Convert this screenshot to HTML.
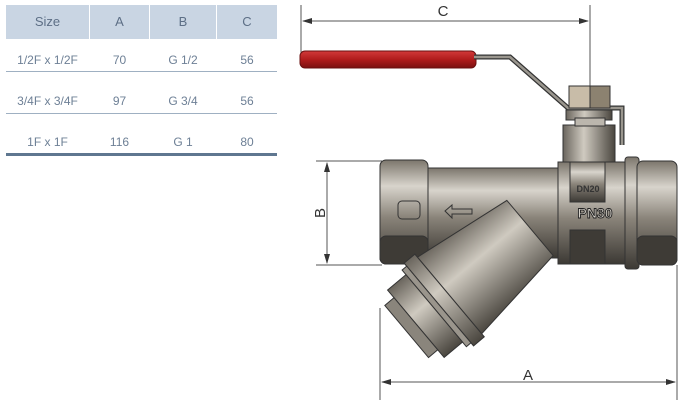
<!DOCTYPE html>
<html><head><meta charset="utf-8"><style>
html,body{margin:0;padding:0;background:#fff;width:700px;height:408px;overflow:hidden;font-family:"Liberation Sans",sans-serif}
.t{position:absolute;left:6px;top:5px;width:271px}
.h{position:absolute;top:0;height:34px;background:#c9d5e3;color:#5d6f86;font-size:13px;line-height:34px;text-align:center}
.c{position:absolute;font-size:12px;color:#6e8096;text-align:center}
.l{position:absolute;left:0;width:271px;height:1px;background:#9fb0c2}
</style></head><body>
<div class="t">
<div class="h" style="left:0;width:83px">Size</div>
<div class="h" style="left:84px;width:59px">A</div>
<div class="h" style="left:144px;width:66px">B</div>
<div class="h" style="left:211px;width:60px">C</div>
<div class="c" style="left:0;width:83px;top:48px">1/2F x 1/2F</div>
<div class="c" style="left:84px;width:59px;top:48px">70</div>
<div class="c" style="left:144px;width:66px;top:48px">G 1/2</div>
<div class="c" style="left:211px;width:60px;top:48px">56</div>
<div class="l" style="top:66px"></div>
<div class="c" style="left:0;width:83px;top:89px">3/4F x 3/4F</div>
<div class="c" style="left:84px;width:59px;top:89px">97</div>
<div class="c" style="left:144px;width:66px;top:89px">G 3/4</div>
<div class="c" style="left:211px;width:60px;top:89px">56</div>
<div class="l" style="top:108px"></div>
<div class="c" style="left:0;width:83px;top:130px">1F x 1F</div>
<div class="c" style="left:84px;width:59px;top:130px">116</div>
<div class="c" style="left:144px;width:66px;top:130px">G 1</div>
<div class="c" style="left:211px;width:60px;top:130px">80</div>
<div class="l" style="top:148px;height:3px;background:#5f7790"></div>
</div>
<svg style="position:absolute;left:0;top:0" width="700" height="408">
<defs>
<linearGradient id="m" x1="0" y1="0" x2="0" y2="1"><stop offset="0" stop-color="#7c766c"/><stop offset=".25" stop-color="#d8d4cc"/><stop offset=".55" stop-color="#8a847a"/><stop offset="1" stop-color="#3c3934"/></linearGradient>
<linearGradient id="mh" x1="0" y1="0" x2="1" y2="0"><stop offset="0" stop-color="#6a655d"/><stop offset=".4" stop-color="#cfcac0"/><stop offset="1" stop-color="#4a463f"/></linearGradient>
<linearGradient id="r" x1="0" y1="0" x2="0" y2="1"><stop offset="0" stop-color="#d23a3a"/><stop offset=".5" stop-color="#b01c1c"/><stop offset="1" stop-color="#7a1010"/></linearGradient>
<marker id="a" markerWidth="10" markerHeight="6" refX="9" refY="3" orient="auto-start-reverse"><path d="M0,0 L10,3 L0,6 Z" fill="#333"/></marker>
</defs>
<g stroke="#555" stroke-width="1" fill="none">
<line x1="301" y1="5" x2="301" y2="58"/><line x1="590" y1="5" x2="590" y2="88"/>
<line x1="303" y1="21" x2="588" y2="21" marker-start="url(#a)" marker-end="url(#a)"/>
<line x1="316" y1="161" x2="382" y2="161"/><line x1="316" y1="265" x2="382" y2="265"/>
<line x1="327" y1="163" x2="327" y2="263" marker-start="url(#a)" marker-end="url(#a)"/>
<line x1="380" y1="308" x2="380" y2="400"/><line x1="677" y1="265" x2="677" y2="400"/>
<line x1="382" y1="382" x2="675" y2="382" marker-start="url(#a)" marker-end="url(#a)"/>
</g>
<text x="443" y="16" font-size="15" fill="#333" text-anchor="middle">C</text>
<text x="528" y="380" font-size="15" fill="#333" text-anchor="middle">A</text>
<text x="0" y="0" font-size="15" fill="#333" text-anchor="middle" transform="translate(325,213) rotate(-90)">B</text>
<!-- handle -->
<rect x="300" y="51" width="176" height="17" rx="5" fill="url(#r)" stroke="#6a1010"/>
<path d="M474,57 L510,57 L568,108 L622,108 L622,145" fill="none" stroke="#333" stroke-width="5"/>
<path d="M474,57 L510,57 L568,108 L622,108 L622,145" fill="none" stroke="#9a968e" stroke-width="2.5"/>
<!-- stem -->
<rect x="563" y="125" width="52" height="40" fill="url(#mh)" stroke="#333"/>
<rect x="566" y="110" width="46" height="10" fill="url(#mh)" stroke="#333"/>
<rect x="575" y="118" width="30" height="8" fill="#bbb6ad" stroke="#333"/>
<rect x="569" y="86" width="21" height="22" fill="#c8bca8" stroke="#333"/>
<rect x="590" y="86" width="20" height="22" fill="#8c8270" stroke="#333"/>
<!-- body -->
<rect x="425" y="168" width="140" height="90" fill="url(#m)" stroke="#333"/>
<rect x="380" y="160" width="48" height="104" rx="6" fill="url(#m)" stroke="#333"/>
<rect x="380" y="236" width="48" height="28" rx="6" fill="#3e3b36" stroke="#333"/>
<rect x="398" y="201" width="22" height="18" rx="4" fill="none" stroke="#333"/>
<path d="M445,211 L452,205 L452,209 L472,209 L472,214 L452,214 L452,218 Z" fill="none" stroke="#333"/>
<rect x="558" y="162" width="77" height="102" fill="url(#m)" stroke="#333"/>
<rect x="570" y="162" width="35" height="40" fill="url(#m)" stroke="#333"/>
<rect x="570" y="230" width="35" height="34" fill="#3e3b36" stroke="#333"/>
<text x="588" y="192" font-size="9" font-weight="bold" fill="#333" text-anchor="middle">DN20</text>
<text x="595" y="218" font-size="14" font-weight="bold" fill="#d8d4cc" stroke="#222" stroke-width=".9" text-anchor="middle">PN30</text>
<rect x="625" y="157" width="14" height="112" rx="3" fill="url(#m)" stroke="#333"/>
<rect x="637" y="161" width="40" height="104" rx="6" fill="url(#m)" stroke="#333"/>
<rect x="637" y="236" width="40" height="29" rx="6" fill="#3e3b36" stroke="#333"/>
<!-- strainer -->
<g transform="translate(530,228) rotate(50)">
<path d="M-36,0 L36,0 L50,105 L-50,105 Z" fill="url(#mh)" stroke="#333"/>
<rect x="-54" y="105" width="108" height="14" fill="url(#mh)" stroke="#333"/>
<rect x="-50" y="119" width="100" height="6" fill="#9a958c" stroke="#333"/>
<rect x="-44" y="125" width="88" height="24" fill="url(#mh)" stroke="#333"/>
<rect x="-34" y="149" width="68" height="12" fill="#8a857c" stroke="#333"/>
</g>
</svg>
</body></html>
